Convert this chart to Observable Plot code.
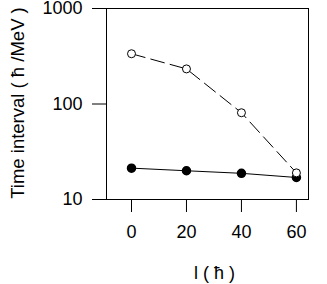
<!DOCTYPE html>
<html><head><meta charset="utf-8">
<script src="https://cdn.jsdelivr.net/npm/d3@7"></script>
<script src="https://cdn.jsdelivr.net/npm/@observablehq/plot@0.6"></script>
<style>body{margin:0;background:#fff}</style>
</head><body><div id="chart"></div>
<script>
const spins = [0, 20, 40, 60];
const openValues = [336, 233, 81, 19];
const filledValues = [21.3, 20, 18.8, 17];
const yTicks = [10, 100, 1000];
const xTicks = [0, 20, 40, 60];
const xTitle = "l ( ħ )";
const yTitle = "Time interval ( ħ /MeV )";

const openData = spins.map((l, i) => ({l, v: openValues[i]}));
const filledData = spins.map((l, i) => ({l, v: filledValues[i]}));

const chart = Plot.plot({
  width: 327, height: 284,
  marginLeft: 106, marginRight: 19, marginTop: 8, marginBottom: 85,
  style: {fontFamily: "Liberation Sans, Arial, sans-serif", fontSize: "18px", background: "#fff", color: "#000", overflow: "visible"},
  x: {domain: [-9.1, 64.4]},
  y: {type: "log", domain: [10, 1000]},
  marks: [
    Plot.frame({stroke: "#000"}),
    Plot.axisY({ticks: yTicks, tickFormat: d => String(d), tickSize: 14, tickPadding: 10, label: null, fontSize: 18}),
    Plot.axisX({ticks: xTicks, tickSize: 13, tickPadding: 13, label: null, fontSize: 18}),
    Plot.line(filledData, {x: "l", y: "v", stroke: "#000", strokeWidth: 1}),
    Plot.line(openData, {x: "l", y: "v", stroke: "#000", strokeWidth: 1, strokeDasharray: "14,6"}),
    Plot.dot(filledData, {x: "l", y: "v", r: 4, fill: "#000", stroke: "#000"}),
    Plot.dot(openData, {x: "l", y: "v", r: 4, fill: "#fff", stroke: "#000", strokeWidth: 1}),
    Plot.text([yTitle], {frameAnchor: "left", dx: -88, dy: -1, rotate: -90, textAnchor: "middle", lineAnchor: "middle", fontSize: 18.5, fill: "#000"}),
    Plot.text([xTitle], {frameAnchor: "bottom", dx: 7, dy: 74, textAnchor: "middle", lineAnchor: "middle", fontSize: 18, fill: "#000"})
  ]
});
document.getElementById("chart").appendChild(chart);
</script>
</body></html>
